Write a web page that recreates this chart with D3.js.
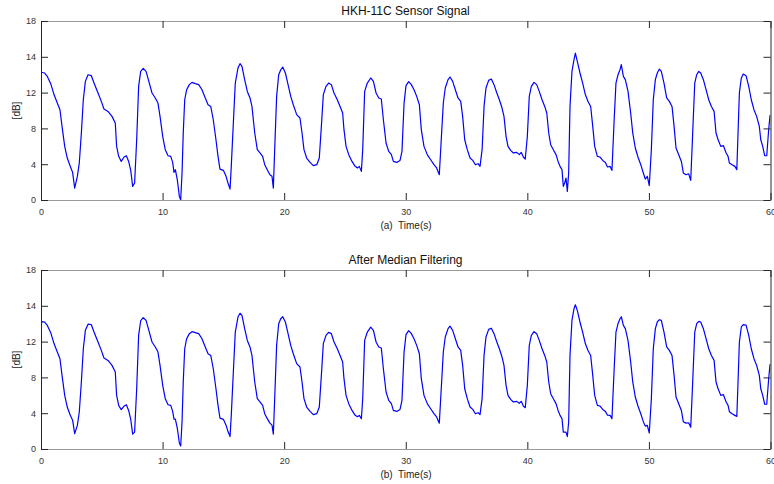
<!DOCTYPE html>
<html><head><meta charset="utf-8">
<script src="https://cdn.jsdelivr.net/npm/d3@7"></script>
<style>
body{margin:0;background:#fff}
text{font-family:"Liberation Sans",Arial,Helvetica,sans-serif}
</style>
</head><body>
<svg id="chart" width="774" height="484"></svg>
<script>
// ---------- data ----------
const rawTime = [0.00,0.30,0.52,0.80,1.07,1.34,1.56,1.73,1.95,2.16,2.39,2.60,2.77,2.99,3.15,3.32,3.48,3.65,3.87,4.14,4.36,4.69,4.96,5.18,5.51,5.84,6.11,6.22,6.39,6.60,6.83,7.02,7.21,7.38,7.54,7.70,7.87,8.03,8.20,8.41,8.64,8.91,9.13,9.40,9.62,9.79,10.01,10.22,10.45,10.67,10.83,10.94,11.05,11.21,11.38,11.49,11.60,11.70,11.82,11.98,12.20,12.42,12.69,12.97,13.24,13.51,13.74,13.96,14.17,14.39,14.56,14.72,15.00,15.22,15.38,15.55,15.65,15.82,15.98,16.20,16.37,16.53,16.75,16.97,17.19,17.35,17.58,17.79,18.01,18.23,18.40,18.61,18.83,19.00,19.11,19.22,19.38,19.55,19.72,19.88,20.10,20.32,20.54,20.75,21.03,21.30,21.47,21.63,21.85,22.13,22.40,22.68,22.89,23.06,23.22,23.44,23.66,23.88,24.10,24.37,24.65,24.81,24.92,25.09,25.31,25.58,25.80,26.02,26.18,26.35,26.46,26.62,26.84,27.12,27.34,27.56,27.78,27.99,28.16,28.38,28.60,28.82,28.98,29.26,29.53,29.69,29.86,30.02,30.24,30.46,30.68,30.90,31.12,31.28,31.50,31.77,32.05,32.32,32.54,32.76,32.92,33.09,33.25,33.48,33.64,33.86,34.08,34.30,34.52,34.68,34.85,35.06,35.29,35.51,35.73,35.95,36.11,36.28,36.44,36.60,36.82,37.04,37.26,37.49,37.70,37.92,38.08,38.25,38.41,38.63,38.85,39.13,39.34,39.50,39.67,39.83,40.00,40.16,40.33,40.55,40.77,40.98,41.21,41.43,41.60,41.76,41.92,42.14,42.36,42.53,42.69,42.85,42.96,43.07,43.18,43.29,43.40,43.51,43.67,43.84,43.95,44.11,44.33,44.55,44.77,44.99,45.21,45.38,45.54,45.76,45.98,46.20,46.42,46.59,46.81,46.96,47.13,47.29,47.46,47.62,47.73,47.90,48.06,48.28,48.50,48.67,48.88,49.10,49.33,49.54,49.70,49.87,50.03,50.20,50.36,50.53,50.69,50.86,51.02,51.24,51.46,51.68,51.90,52.07,52.23,52.45,52.67,52.83,53.05,53.27,53.44,53.60,53.77,53.93,54.10,54.26,54.48,54.70,54.92,55.14,55.36,55.52,55.69,55.91,56.13,56.35,56.51,56.62,56.84,57.07,57.23,57.33,57.44,57.60,57.76,57.99,58.21,58.42,58.64,58.86,59.08,59.20,59.36,59.52,59.69,59.85,59.96,60.00];
const rawDb = [12.85,12.77,12.43,11.70,10.60,9.75,9.08,7.40,5.39,4.22,3.45,2.78,1.20,2.37,3.72,6.74,10.08,11.93,12.60,12.50,11.76,10.76,9.92,9.15,8.91,8.41,7.74,5.39,4.39,3.88,4.32,4.45,3.88,2.98,1.37,1.71,6.06,11.42,12.93,13.23,12.93,11.76,10.76,10.26,9.75,8.41,6.40,5.06,4.45,4.39,3.78,2.78,3.05,2.04,0.36,0.03,2.72,6.74,10.08,11.09,11.60,11.83,11.70,11.60,11.09,10.26,9.58,9.41,8.07,6.06,4.39,3.10,2.98,2.38,1.71,1.10,3.38,7.74,11.76,13.27,13.71,13.44,12.10,10.92,10.26,9.41,6.74,5.06,4.73,4.39,3.55,3.05,2.54,2.38,1.20,5.06,10.42,12.60,13.10,13.37,12.77,11.60,10.42,9.58,8.58,8.25,6.74,5.06,4.22,3.78,3.45,3.55,4.22,7.40,10.59,11.42,11.76,11.60,10.76,10.08,9.25,8.75,7.07,5.39,4.56,3.88,3.45,3.22,3.38,2.88,5.06,10.92,11.76,12.27,11.93,10.76,10.26,10.16,8.07,5.73,4.89,4.56,3.88,3.78,3.98,4.89,9.70,11.50,11.90,11.60,11.09,10.42,9.58,7.07,5.39,4.56,4.05,3.55,3.22,2.54,6.06,9.75,11.26,12.10,12.37,11.93,11.09,10.26,9.92,8.41,6.06,5.06,4.22,3.98,3.55,3.65,3.38,5.06,9.41,11.26,12.03,12.17,11.60,10.76,10.08,9.25,8.41,6.40,5.39,4.99,4.73,4.79,4.56,4.79,4.32,4.12,6.40,10.42,11.42,11.83,11.60,10.92,10.08,9.41,8.75,6.74,5.56,5.06,4.56,3.88,3.38,3.05,1.37,1.71,2.21,0.87,2.72,9.41,12.93,14.11,14.78,13.94,12.77,11.76,10.60,9.90,9.40,7.40,5.39,4.39,4.32,3.98,3.78,3.32,3.38,2.98,7.74,11.76,12.60,13.10,13.61,12.43,12.10,10.92,8.75,6.74,5.23,4.32,3.55,2.72,2.11,2.38,1.44,5.06,10.08,12.10,12.77,13.17,12.93,11.76,10.26,9.92,9.41,7.40,5.23,4.56,3.88,2.72,2.54,2.64,1.97,6.74,11.76,12.60,12.93,12.77,12.10,11.09,10.08,9.41,8.91,6.74,6.06,5.39,5.46,4.73,4.39,3.72,3.55,3.38,3.05,6.74,10.76,12.27,12.67,12.50,11.42,10.08,9.08,8.41,7.40,6.06,5.39,4.45,4.45,7.07,8.48,8.55];

const filtTime = [0.00,0.04,0.30,0.52,0.80,1.07,1.34,1.56,1.73,1.95,2.16,2.39,2.60,2.77,2.99,3.15,3.32,3.48,3.65,3.87,4.14,4.36,4.69,4.96,5.18,5.51,5.84,6.11,6.22,6.39,6.60,6.83,7.02,7.21,7.38,7.54,7.70,7.87,8.03,8.20,8.41,8.64,8.91,9.13,9.40,9.62,9.79,10.01,10.22,10.45,10.67,10.83,10.94,11.05,11.21,11.38,11.49,11.60,11.70,11.82,11.98,12.20,12.42,12.69,12.97,13.24,13.51,13.74,13.96,14.17,14.39,14.56,14.72,15.00,15.22,15.38,15.55,15.65,15.82,15.98,16.20,16.37,16.53,16.75,16.97,17.19,17.35,17.58,17.79,18.01,18.23,18.40,18.61,18.83,19.00,19.11,19.22,19.38,19.55,19.72,19.88,20.10,20.32,20.54,20.75,21.03,21.30,21.47,21.63,21.85,22.13,22.40,22.68,22.89,23.06,23.22,23.44,23.66,23.88,24.10,24.37,24.65,24.81,24.92,25.09,25.31,25.58,25.80,26.02,26.18,26.35,26.46,26.62,26.84,27.12,27.34,27.56,27.78,27.99,28.16,28.38,28.60,28.82,28.98,29.26,29.53,29.69,29.86,30.02,30.24,30.46,30.68,30.90,31.12,31.28,31.50,31.77,32.05,32.32,32.54,32.76,32.92,33.09,33.25,33.48,33.64,33.86,34.08,34.30,34.52,34.68,34.85,35.06,35.29,35.51,35.73,35.95,36.11,36.28,36.44,36.60,36.82,37.04,37.26,37.49,37.70,37.92,38.08,38.25,38.41,38.63,38.85,39.13,39.34,39.50,39.67,39.83,40.00,40.16,40.33,40.55,40.77,40.98,41.21,41.43,41.60,41.76,41.92,42.14,42.36,42.53,42.69,42.85,42.96,43.07,43.18,43.29,43.40,43.51,43.67,43.84,43.95,44.11,44.33,44.55,44.77,44.99,45.21,45.38,45.54,45.76,45.98,46.20,46.42,46.59,46.81,46.96,47.13,47.29,47.46,47.62,47.73,47.90,48.06,48.28,48.50,48.67,48.88,49.10,49.33,49.54,49.70,49.87,50.03,50.20,50.36,50.53,50.69,50.86,51.02,51.24,51.46,51.68,51.90,52.07,52.23,52.45,52.67,52.83,53.05,53.27,53.44,53.60,53.77,53.93,54.10,54.26,54.48,54.70,54.92,55.14,55.36,55.52,55.69,55.91,56.13,56.35,56.51,56.62,56.84,57.07,57.23,57.33,57.44,57.60,57.76,57.99,58.21,58.42,58.64,58.86,59.08,59.20,59.36,59.52,59.69,59.85,59.96,60.00];
const filtDb = [6.40,12.80,12.75,12.43,11.70,10.60,9.75,9.08,7.40,5.39,4.22,3.45,2.90,1.55,2.37,3.72,6.74,10.08,11.93,12.55,12.50,11.76,10.76,9.92,9.15,8.91,8.41,7.74,5.39,4.39,3.95,4.32,4.45,3.88,2.98,1.50,1.70,6.06,11.42,12.90,13.20,12.93,11.76,10.76,10.26,9.75,8.41,6.40,5.06,4.45,4.39,3.78,3.00,3.00,2.10,0.60,0.30,2.72,6.74,10.08,11.09,11.60,11.80,11.70,11.60,11.09,10.26,9.58,9.41,8.07,6.06,4.39,3.10,2.98,2.40,1.75,1.25,3.38,7.74,11.76,13.27,13.65,13.44,12.10,10.92,10.26,9.41,6.74,5.06,4.73,4.39,3.55,3.05,2.60,2.40,1.50,5.06,10.42,12.60,13.10,13.30,12.77,11.60,10.42,9.58,8.58,8.25,6.74,5.06,4.22,3.78,3.45,3.55,4.22,7.40,10.59,11.42,11.73,11.60,10.76,10.08,9.25,8.75,7.07,5.39,4.56,3.88,3.45,3.25,3.38,3.05,5.06,10.92,11.76,12.25,11.93,10.76,10.26,10.16,8.07,5.73,4.89,4.56,3.88,3.78,3.98,4.89,9.70,11.50,11.90,11.60,11.09,10.42,9.58,7.07,5.39,4.56,4.05,3.55,3.22,2.60,6.06,9.75,11.26,12.10,12.35,11.93,11.09,10.26,9.92,8.41,6.06,5.06,4.22,3.98,3.55,3.65,3.45,5.06,9.41,11.26,12.03,12.15,11.60,10.76,10.08,9.25,8.41,6.40,5.39,4.99,4.73,4.79,4.60,4.79,4.32,4.15,6.40,10.42,11.42,11.80,11.60,10.92,10.08,9.41,8.75,6.74,5.56,5.06,4.56,3.88,3.38,3.05,1.70,1.70,1.70,1.25,2.72,9.41,12.93,14.11,14.50,13.94,12.77,11.76,10.60,9.90,9.40,7.40,5.39,4.39,4.32,3.98,3.78,3.40,3.38,3.05,7.74,11.76,12.60,13.10,13.30,12.43,12.10,10.92,8.75,6.74,5.23,4.32,3.55,2.75,2.30,2.38,1.60,5.06,10.08,12.10,12.77,13.00,12.93,11.76,10.26,9.92,9.41,7.40,5.23,4.56,3.88,2.75,2.60,2.64,2.20,6.74,11.76,12.60,12.83,12.77,12.10,11.09,10.08,9.41,8.91,6.74,6.06,5.39,5.46,4.73,4.39,3.75,3.55,3.38,3.28,6.74,10.76,12.27,12.50,12.45,11.42,10.08,9.08,8.41,7.40,6.06,5.39,4.50,4.50,7.07,8.48,8.55];

const xTickValues = [0,10,20,30,40,50,60];
const yTickLabels = ["0","4","8","12","14","18"];
const panelTitles = ["HKH-11C Sensor Signal","After Median Filtering"];
const xAxisLabels = ["(a)  Time(s)","(b)  Time(s)"];
const yAxisLabel = "[dB]";

// ---------- drawing ----------
const svg = d3.select("#chart");
const left = 41, right = 770.5;
const panels = [
  {top:21, bottom:200, t:rawTime, v:rawDb, title:panelTitles[0], xl:xAxisLabels[0]},
  {top:270, bottom:449, t:filtTime, v:filtDb, title:panelTitles[1], xl:xAxisLabels[1]}
];
const x = d3.scaleLinear().domain([0,60]).range([left,right]);
const yTickPos = yTickLabels.map((d,i)=> i*18/(yTickLabels.length-1));

panels.forEach(p=>{
  const y = d3.scaleLinear().domain([0,18]).range([p.bottom,p.top]);
  const g = svg.append("g");

  const clipId = "clip"+p.top;
  svg.append("clipPath").attr("id",clipId).append("rect")
    .attr("x",left).attr("y",p.top-1).attr("width",right-left).attr("height",p.bottom-p.top+2);

  const data = p.t.map((t,i)=>[t,p.v[i]]);
  g.append("path").datum(data)
    .attr("clip-path","url(#"+clipId+")")
    .attr("fill","none").attr("stroke","#0000ff").attr("stroke-width",1.2)
    .attr("stroke-linejoin","round")
    .attr("d", d3.line().x(d=>x(d[0])).y(d=>y(d[1])));

  const styleAxis = (sel, domainColor)=>{
    sel.selectAll(".domain").attr("stroke",domainColor);
    sel.selectAll(".tick line").attr("stroke","#262626");
    sel.selectAll(".tick text").attr("fill","#333").style("font-size","9px")
      .style("font-family","'Liberation Sans',Arial,sans-serif");
  };

  const ax = g.append("g").attr("transform",`translate(0,${p.bottom})`)
    .call(d3.axisBottom(x).tickValues(xTickValues).tickFormat(d3.format("d"))
      .tickSizeInner(-7).tickSizeOuter(0).tickPadding(9));
  styleAxis(ax,"#9a9a9a");

  const axT = g.append("g").attr("transform",`translate(0,${p.top})`)
    .call(d3.axisTop(x).tickValues(xTickValues).tickFormat("")
      .tickSizeInner(-7).tickSizeOuter(0));
  styleAxis(axT,"#9a9a9a");

  const ay = g.append("g").attr("transform",`translate(${left},0)`)
    .call(d3.axisLeft(y).tickValues(yTickPos).tickFormat((d,i)=>yTickLabels[i])
      .tickSizeInner(-7).tickSizeOuter(0).tickPadding(5));
  styleAxis(ay,"#262626");

  const ayR = g.append("g").attr("transform",`translate(${right},0)`)
    .call(d3.axisRight(y).tickValues(yTickPos).tickFormat("")
      .tickSizeInner(-7).tickSizeOuter(0));
  styleAxis(ayR,"#262626");

  g.append("text").attr("x",405.5).attr("y",p.top-6).attr("text-anchor","middle")
    .style("font-size","12px").attr("fill","#111").text(p.title);

  g.append("text").attr("x",406).attr("y",p.bottom+29).attr("text-anchor","middle")
    .style("font-size","10px").attr("fill","#222").attr("xml:space","preserve")
    .style("white-space","pre").text(p.xl);

  g.append("text").attr("transform",`translate(20,${(p.top+p.bottom)/2}) rotate(-90)`)
    .attr("text-anchor","middle").style("font-size","10px").attr("fill","#222").text(yAxisLabel);
});
</script>
</body></html>
